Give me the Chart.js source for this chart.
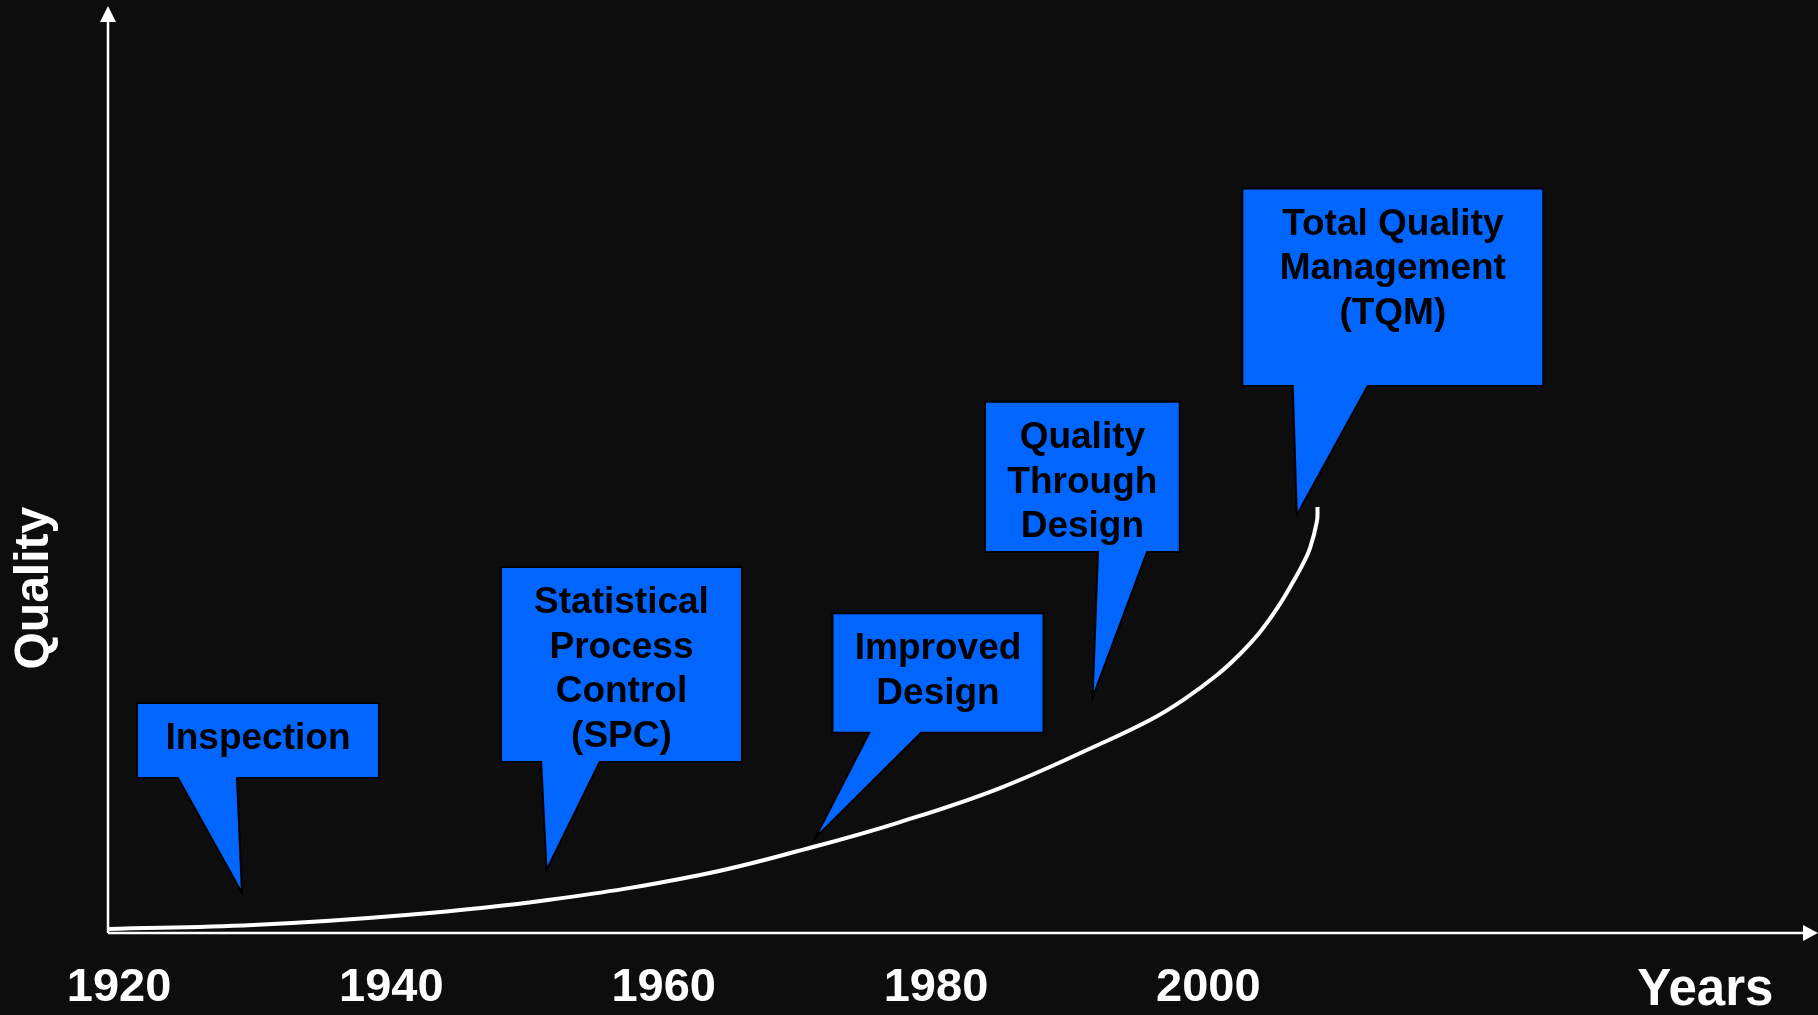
<!DOCTYPE html>
<html>
<head>
<meta charset="utf-8">
<script src="https://cdn.jsdelivr.net/npm/chart.js@4"></script>
<style>
  html, body { margin: 0; padding: 0; background: #0d0d0d; }
  canvas { display: block; }
</style>
</head>
<body>
<canvas id="qualityChart" width="1818" height="1015"></canvas>
<script>
/* DATA */
var years = [1919.19, 1929.84, 1941.08, 1951.5, 1962.67, 1970.97, 1977.36, 1984.7, 1992.05, 1995.72, 1998.14, 2000.64, 2002.33, 2003.8, 2005.12, 2006.22, 2006.95, 2007.47, 2007.98, 2008.02];
var quality = [0.43, 0.86, 1.94, 3.56, 6.26, 9.28, 11.97, 15.64, 20.39, 22.98, 25.13, 27.83, 30.1, 32.47, 35.17, 37.86, 39.81, 41.53, 44.44, 45.95];

var tickYears = [1920, 1940, 1960, 1980, 2000];
var xTitle = 'Years';
var xTitleAt = 2036.5;
var yTitle = 'Quality';
var yTitleAt = 37.2;

/* callouts: label, box (years / quality), tail base (years), tip (year, quality) */
var calloutLabels = ['Inspection', 'Statistical\nProcess\nControl\n(SPC)', 'Improved\nDesign', 'Quality\nThrough\nDesign', 'Total Quality\nManagement\n(TQM)'];
var boxLeft = [1921.32, 1948.05, 1972.4, 1983.6, 2002.5];
var boxRight = [1939.09, 1965.75, 1987.9, 1997.9, 2024.6];
var boxTop = [24.81, 39.48, 34.5, 57.3, 80.3];
var boxBottom = [16.72, 18.45, 21.6, 41.1, 59.0];
var tailLeft = [1924.33, 1951.0, 1975.1, 1991.9, 2006.2];
var tailRight = [1928.66, 1955.3, 1978.9, 1995.5, 2011.7];
var tipYear = [1929.03, 1951.4, 1971.1, 1991.5, 2006.5];
var tipQuality = [4.31, 6.8, 10.2, 25.4, 45.1];

var FONT = "'Liberation Sans', Arial, sans-serif";

/* axes with arrows, y title and callouts */
var drawingPlugin = {
	id: 'drawing',
	beforeDatasetsDraw: function(chart) {
		var ctx = chart.ctx;
		var a = chart.chartArea;
		ctx.save();
		ctx.strokeStyle = '#ffffff';
		ctx.fillStyle = '#ffffff';
		ctx.lineWidth = 2.5;
		// y axis
		ctx.beginPath();
		ctx.moveTo(a.left, a.bottom);
		ctx.lineTo(a.left, a.top + 14);
		ctx.stroke();
		ctx.beginPath();
		ctx.moveTo(a.left, a.top);
		ctx.lineTo(a.left - 8, a.top + 16);
		ctx.lineTo(a.left + 8, a.top + 16);
		ctx.closePath();
		ctx.fill();
		// x axis
		ctx.beginPath();
		ctx.moveTo(a.left, a.bottom);
		ctx.lineTo(chart.width - 14, a.bottom);
		ctx.stroke();
		ctx.beginPath();
		ctx.moveTo(chart.width, a.bottom);
		ctx.lineTo(chart.width - 15, a.bottom - 8);
		ctx.lineTo(chart.width - 15, a.bottom + 8);
		ctx.closePath();
		ctx.fill();
		// y title
		ctx.translate(35, chart.scales.y.getPixelForValue(yTitleAt));
		ctx.rotate(-Math.PI / 2);
		ctx.font = 'bold 48px ' + FONT;
		ctx.textAlign = 'center';
		ctx.textBaseline = 'middle';
		ctx.fillText(yTitle, 0, 0);
		ctx.restore();
	},
	afterDatasetsDraw: function(chart) {
		var ctx = chart.ctx;
		var xs = chart.scales.x;
		var ys = chart.scales.y;
		ctx.save();
		for (var i = 0; i < calloutLabels.length; i++) {
			var x1 = xs.getPixelForValue(boxLeft[i]);
			var x2 = xs.getPixelForValue(boxRight[i]);
			var y1 = ys.getPixelForValue(boxTop[i]);
			var y2 = ys.getPixelForValue(boxBottom[i]);
			ctx.beginPath();
			ctx.moveTo(x1, y1);
			ctx.lineTo(x2, y1);
			ctx.lineTo(x2, y2);
			ctx.lineTo(xs.getPixelForValue(tailRight[i]), y2);
			ctx.lineTo(xs.getPixelForValue(tipYear[i]), ys.getPixelForValue(tipQuality[i]));
			ctx.lineTo(xs.getPixelForValue(tailLeft[i]), y2);
			ctx.lineTo(x1, y2);
			ctx.closePath();
			ctx.fillStyle = '#0066ff';
			ctx.fill();
			ctx.lineWidth = 2;
			ctx.strokeStyle = '#000000';
			ctx.stroke();

			ctx.fillStyle = '#000000';
			ctx.font = 'bold 37px ' + FONT;
			ctx.textAlign = 'center';
			ctx.textBaseline = 'middle';
			var lines = calloutLabels[i].split('\n');
			for (var k = 0; k < lines.length; k++) {
				ctx.fillText(lines[k], (x1 + x2) / 2, y1 + 36 + 44.5 * k);
			}
		}
		ctx.restore();
	}
};

var ctxQuality = document.getElementById('qualityChart').getContext('2d');
var qualityChart = new Chart(ctxQuality, {
	type: 'line',
	data: {
		datasets: [{
			data: years.map(function(x, i) { return {x: x, y: quality[i]}; }),
			borderColor: '#ffffff',
			borderWidth: 4,
			pointRadius: 0,
			tension: 0.4,
			fill: false
		}]
	},
	options: {
		responsive: false,
		animation: false,
		layout: {
			padding: {left: 0, top: 6, right: 2, bottom: 0}
		},
		plugins: {
			legend: {display: false},
			tooltip: {enabled: false}
		},
		scales: {
			x: {
				type: 'linear',
				min: 1919.19,
				max: 2044.63,
				grid: {display: false, drawTicks: false},
				border: {display: false},
				afterFit: function(scale) { scale.height = 82; },
				afterBuildTicks: function(scale) {
					scale.ticks = tickYears.concat([xTitleAt]).map(function(v) { return {value: v}; });
				},
				ticks: {
					autoSkip: false,
					maxRotation: 0,
					padding: 32,
					color: '#ffffff',
					font: function(c) {
						var isTitle = c.tick && c.tick.value === xTitleAt;
						return {family: FONT, weight: 'bold', size: isTitle ? 51 : 47, lineHeight: 1};
					},
					callback: function(value) {
						return value === xTitleAt ? xTitle : String(value);
					}
				}
			},
			y: {
				type: 'linear',
				min: 0,
				max: 100,
				grid: {display: false, drawTicks: false},
				border: {display: false},
				ticks: {display: false},
				afterFit: function(scale) { scale.width = 108; }
			}
		}
	},
	plugins: [drawingPlugin]
});
</script>
</body>
</html>
